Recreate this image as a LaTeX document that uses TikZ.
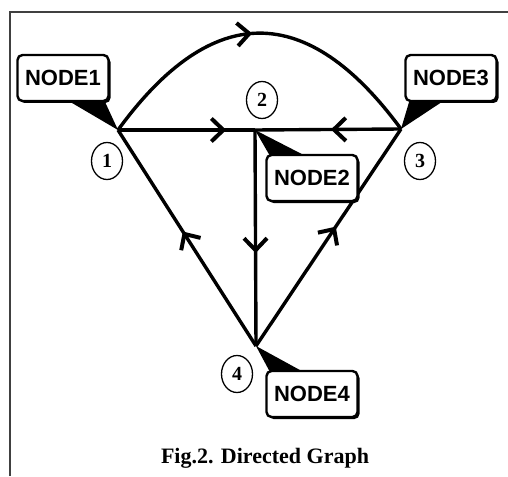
\documentclass[tikz,border=0pt]{standalone}
\usepackage{fontspec}
\setmainfont{Liberation Serif}
\newfontfamily\labelfont{Liberation Sans}
\usetikzlibrary{arrows.meta,decorations.markings,shapes.geometric,shadows,calc}

\tikzset{
  edge/.style={line width=3.4pt},
  midarrow/.style={postaction={decorate,decoration={markings,
      mark=at position #1 with {\arrow{Straight Barb[length=12pt,width=23pt,line width=4pt]}}}}},
  tag/.style={draw, fill=white, line width=2.4pt, rounded corners=5pt,
      minimum width=91pt, minimum height=46pt, inner sep=0pt,
      font=\labelfont\bfseries\fontsize{22}{24}\selectfont,
      drop shadow={shadow xshift=2pt, shadow yshift=-2pt, fill=black, opacity=1}},
  pointer/.style={fill=black},
  num/.style={draw, ellipse, line width=1.3pt, minimum width=31pt, minimum height=37pt,
      inner sep=0pt, font=\bfseries\fontsize{20}{20}\selectfont},
  frame/.style={line width=1.4pt, draw=black!75}
}

\begin{document}
\begin{tikzpicture}[x=1pt,y=-1pt]
  \useasboundingbox (0,0) rectangle (508,476);
  \draw[frame] (10,476) -- (10,12) -- (508,12);

  % graph vertices
  \coordinate (v1) at (118,130);
  \coordinate (v2) at (255,130);
  \coordinate (v3) at (401,129);
  \coordinate (v4) at (256,346);

  % directed edges
  \draw[edge, midarrow=0.48] (v1) .. controls (212,1) and (307,1) .. (v3);
  \draw[edge, midarrow=0.79] (v1) -- (v2);
  \draw[edge, midarrow=0.48] (v3) -- (v2);
  \draw[edge, midarrow=0.57] (v2) -- (v4);
  \draw[edge, midarrow=0.53] (v4) -- (v1);
  \draw[edge, midarrow=0.55] (v4) -- (v3);

  % name tags with their pointers
  \node[tag] (n1) at (63,78) {NODE1};
  \node[tag] (n3) at (451,78) {NODE3};
  \node[tag] (n2) at (312,178) {NODE2};
  \node[tag] (n4) at (312,394) {NODE4};
  \fill[pointer] (v1) -- ($(n1.south)+(6,-1)$) -- ($(n1.south east)+(-5,-1)$) -- cycle;
  \fill[pointer] (v3) -- ($(n3.south west)+(5,-1)$) -- ($(n3.south)+(-8,-1)$) -- cycle;
  \fill[pointer] (v2) -- ($(n2.north west)+(4,1)$) -- ($(n2.north west)+(38,1)$) -- cycle;
  \fill[pointer] (v4) -- ($(n4.north west)+(4,1)$) -- ($(n4.north west)+(36,1)$) -- cycle;

  % vertex numbers
  \node[num] (c1) at (107,161) {1};
  \node[num] (c2) at (262,100) {2};
  \node[num] (c3) at (420,161) {3};
  \node[num] (c4) at (237,374) {4};

  \node[font=\bfseries\fontsize{22}{24}\selectfont, anchor=base] (cap) at (265,463) {Fig.2. Directed Graph};
\end{tikzpicture}
\end{document}
